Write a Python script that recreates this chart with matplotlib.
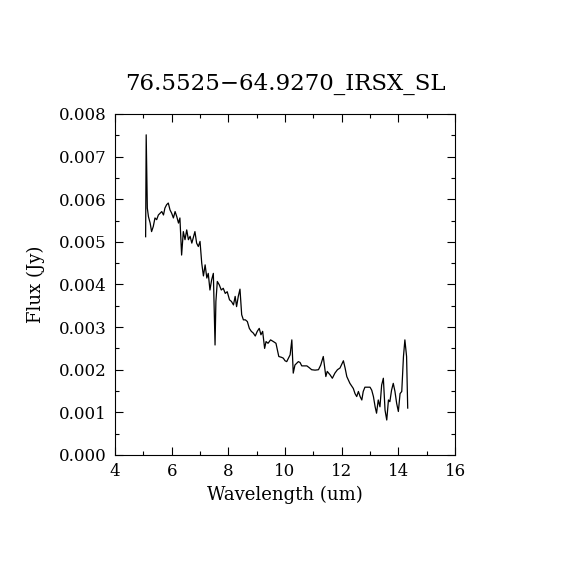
import matplotlib
matplotlib.use("Agg")
import matplotlib.pyplot as plt
from matplotlib.ticker import MultipleLocator

title = "76.5525\u221264.9270_IRSX_SL"

wavelength = [
    5.08, 5.10, 5.14, 5.18, 5.24, 5.29, 5.35, 5.41, 5.47, 5.53, 5.59, 5.65,
    5.71, 5.76, 5.82, 5.88, 5.94, 6.00, 6.06, 6.12, 6.18, 6.24, 6.29, 6.35,
    6.41, 6.47, 6.53, 6.59, 6.65, 6.71, 6.76, 6.82, 6.88, 6.94, 7.00, 7.06,
    7.12, 7.18, 7.24, 7.29, 7.35, 7.41, 7.47, 7.53, 7.56, 7.61, 7.68, 7.75,
    7.82, 7.89, 7.96, 8.04, 8.11, 8.18, 8.24, 8.29, 8.35, 8.41, 8.47, 8.53,
    8.60, 8.67, 8.74, 8.81, 8.88, 8.95, 9.02, 9.09, 9.15, 9.21, 9.28, 9.33,
    9.40, 9.49, 9.59, 9.68, 9.78, 9.88, 9.94, 10.00, 10.06, 10.12, 10.18,
    10.24, 10.29, 10.35, 10.41, 10.47, 10.53, 10.59, 10.68, 10.77, 10.85,
    10.94, 11.06, 11.18, 11.26, 11.35, 11.44, 11.49, 11.59, 11.67, 11.76,
    11.85, 11.94, 12.06, 12.12, 12.18, 12.29, 12.41, 12.47, 12.53, 12.59,
    12.65, 12.71, 12.76, 12.82, 12.94, 13.00, 13.06, 13.12, 13.18, 13.23,
    13.29, 13.35, 13.41, 13.47, 13.53, 13.59, 13.65, 13.70, 13.76, 13.82,
    13.88, 13.94, 14.00, 14.06, 14.12, 14.18, 14.23, 14.29, 14.33,
]

# flux in mJy-ish units (x 1e-3 Jy)
flux = [
    5.12, 7.51, 5.79, 5.59, 5.44, 5.24, 5.36, 5.56, 5.52, 5.63, 5.67, 5.71,
    5.63, 5.79, 5.87, 5.91, 5.75, 5.67, 5.56, 5.71, 5.59, 5.44, 5.56, 4.69,
    5.24, 5.05, 5.28, 5.05, 5.13, 4.97, 5.09, 5.24, 4.97, 4.89, 5.01, 4.50,
    4.20, 4.46, 4.15, 4.26, 3.87, 4.11, 4.26, 2.58, 3.60, 4.07, 3.99, 3.87,
    3.91, 3.79, 3.83, 3.64, 3.60, 3.52, 3.72, 3.48, 3.72, 3.89, 3.29, 3.17,
    3.17, 3.13, 2.97, 2.90, 2.86, 2.79, 2.90, 2.97, 2.82, 2.90, 2.50, 2.66,
    2.62, 2.70, 2.66, 2.62, 2.31, 2.29, 2.27, 2.21, 2.19, 2.27, 2.35,
    2.70, 1.92, 2.11, 2.15, 2.19, 2.17, 2.09, 2.09, 2.09, 2.05,
    2.00, 1.99, 2.00, 2.11, 2.31, 1.84, 1.96, 1.88, 1.80, 1.92,
    2.00, 2.04, 2.21, 2.04, 1.84, 1.68, 1.56, 1.44, 1.37, 1.49,
    1.37, 1.29, 1.49, 1.59, 1.59, 1.59, 1.52, 1.37, 1.13, 0.98,
    1.29, 1.13, 1.64, 1.80, 1.05, 0.82, 1.29, 1.25, 1.52, 1.68,
    1.49, 1.21, 1.02, 1.44, 1.49, 2.31, 2.70, 2.31, 1.10,
]

plt.rcParams["font.family"] = "DejaVu Serif"

fig = plt.figure(figsize=(5.7, 5.7), dpi=100)
ax = fig.add_axes([0.2018, 0.2018, 0.5965, 0.5983])

ax.plot(wavelength, [f * 1e-3 for f in flux], color="black", lw=0.9)

ax.set_xlim(4, 16)
ax.set_ylim(0, 0.008)
ax.xaxis.set_major_locator(MultipleLocator(2))
ax.xaxis.set_minor_locator(MultipleLocator(1))
ax.yaxis.set_major_locator(MultipleLocator(0.001))
ax.yaxis.set_minor_locator(MultipleLocator(0.0005))
ax.yaxis.set_major_formatter(matplotlib.ticker.FormatStrFormatter("%.3f"))
ax.tick_params(which="both", direction="in", top=True, right=True, width=0.8)
ax.tick_params(which="major", length=6, labelsize=12, pad=6)
ax.tick_params(which="minor", length=3)
for s in ax.spines.values():
    s.set_linewidth(0.8)

ax.set_xlabel("Wavelength (um)", fontsize=13, labelpad=4)
ax.set_ylabel("Flux (Jy)", fontsize=13, labelpad=10)
ax.set_title(title, fontsize=16.5, pad=17)

fig.savefig("out.png", dpi=100)
